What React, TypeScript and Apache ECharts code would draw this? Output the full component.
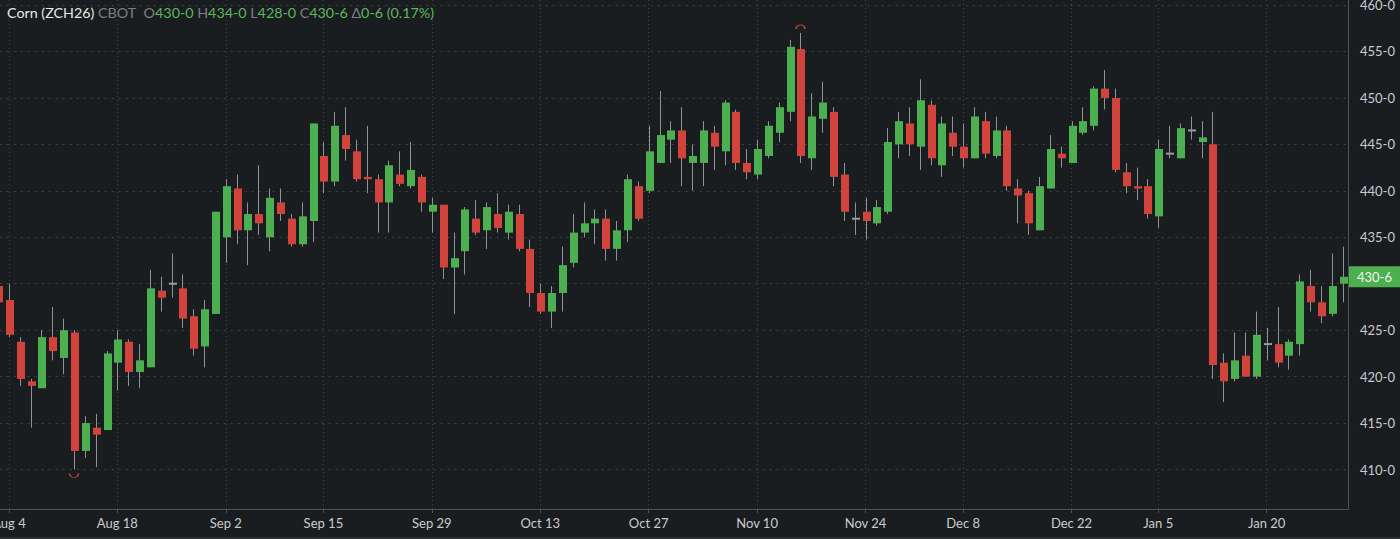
import React, { useEffect, useRef } from "react";
import * as echarts from "echarts";

// ---------- data ----------
const dates = [
  "Aug 1", "Aug 4", "Aug 5", "Aug 6", "Aug 7", "Aug 8", "Aug 11", "Aug 12", "Aug 13", "Aug 14", "Aug 15",
  "Aug 18", "Aug 19", "Aug 20", "Aug 21", "Aug 22", "Aug 25", "Aug 26", "Aug 27", "Aug 28", "Aug 29",
  "Sep 2", "Sep 3", "Sep 4", "Sep 5", "Sep 8", "Sep 9", "Sep 10", "Sep 11", "Sep 12",
  "Sep 15", "Sep 16", "Sep 17", "Sep 18", "Sep 19", "Sep 22", "Sep 23", "Sep 24", "Sep 25", "Sep 26", "Sep 29", "Sep 30",
  "Oct 1", "Oct 2", "Oct 3", "Oct 6", "Oct 7", "Oct 8", "Oct 9", "Oct 10", "Oct 13", "Oct 14", "Oct 15", "Oct 16", "Oct 17",
  "Oct 20", "Oct 21", "Oct 22", "Oct 23", "Oct 24", "Oct 27", "Oct 28", "Oct 29", "Oct 30", "Oct 31",
  "Nov 3", "Nov 4", "Nov 5", "Nov 6", "Nov 7", "Nov 10", "Nov 11", "Nov 12", "Nov 13", "Nov 14",
  "Nov 17", "Nov 18", "Nov 19", "Nov 20", "Nov 21", "Nov 24", "Nov 25", "Nov 26", "Nov 28",
  "Dec 1", "Dec 2", "Dec 3", "Dec 4", "Dec 5", "Dec 8", "Dec 9", "Dec 10", "Dec 11", "Dec 12",
  "Dec 15", "Dec 16", "Dec 17", "Dec 18", "Dec 19", "Dec 22", "Dec 23", "Dec 24", "Dec 26", "Dec 29", "Dec 30", "Dec 31",
  "Jan 2", "Jan 5", "Jan 6", "Jan 7", "Jan 8", "Jan 9", "Jan 12", "Jan 13", "Jan 14", "Jan 15", "Jan 16",
  "Jan 20", "Jan 21", "Jan 22", "Jan 23", "Jan 26", "Jan 27", "Jan 28", "Jan 29",
];

const opens = [
  429.75, 428.25, 423.75, 419.5, 418.75, 424.25, 422.0, 424.75, 412.0, 414.5, 414.25,
  421.5, 423.75, 420.5, 421.0, 429.25, 430.0, 429.5, 426.5, 423.25, 426.75,
  435.0, 440.25, 435.75, 437.5, 435.0, 438.75, 437.0, 434.25, 436.75,
  443.75, 441.0, 446.0, 444.25, 441.5, 441.25, 438.75, 441.75, 440.5, 441.5, 437.75, 438.5,
  431.75, 433.5, 437.0, 435.75, 437.5, 435.5, 437.5, 433.75, 429.0, 427.0, 429.0, 432.25, 435.5,
  436.5, 437.0, 433.75, 435.75, 440.5, 440.0, 443.0, 445.5, 446.5, 443.0,
  443.0, 446.25, 444.25, 448.5, 443.0, 441.75, 443.75, 446.25, 448.5, 455.25,
  443.5, 447.75, 448.5, 441.75, 437.0, 437.75, 436.5, 437.75, 445.0,
  447.25, 444.75, 449.25, 442.75, 446.25, 444.75, 443.5, 447.5, 443.75, 446.5,
  440.25, 439.75, 435.75, 440.25, 444.0, 443.0, 446.25, 447.0, 451.0, 450.0, 442.0, 440.5,
  440.5, 437.25, 444.0, 443.5, 446.5, 445.25, 445.0, 421.5, 419.75, 422.25, 420.0,
  423.5, 423.5, 422.25, 423.5, 429.75, 428.0, 426.75, 430.0,
];

const closes = [
  428.0, 424.5, 419.75, 419.0, 424.25, 422.75, 425.0, 412.0, 415.0, 413.75, 422.5,
  424.0, 420.5, 421.75, 429.5, 428.5, 430.0, 426.25, 423.0, 427.25, 437.75,
  440.5, 435.75, 437.5, 436.5, 439.25, 437.5, 434.25, 437.25, 447.25,
  441.0, 447.0, 444.5, 441.25, 441.25, 438.75, 442.75, 440.75, 442.25, 438.75, 438.5, 431.75,
  432.75, 438.0, 435.5, 438.25, 436.0, 437.75, 433.75, 429.0, 427.0, 429.0, 432.0, 435.5, 436.5,
  437.0, 433.75, 435.75, 441.25, 437.0, 444.25, 446.0, 446.5, 443.5, 443.75,
  446.5, 444.75, 449.5, 443.0, 442.0, 444.5, 447.0, 449.0, 455.5, 443.75,
  448.0, 449.5, 441.5, 437.75, 437.0, 436.75, 438.25, 445.25, 447.5,
  445.0, 449.75, 443.5, 447.25, 444.75, 443.5, 448.0, 444.0, 446.5, 440.5,
  439.5, 436.5, 440.5, 444.5, 443.5, 447.0, 447.5, 451.0, 450.0, 442.25, 440.5, 440.25,
  437.5, 444.5, 444.0, 446.75, 446.5, 445.75, 421.25, 419.5, 421.75, 420.0, 424.5,
  423.5, 421.5, 423.75, 430.25, 428.0, 426.5, 429.75, 430.75,
];

const lows = [
  427.5, 424.25, 419.0, 414.5, 418.75, 421.75, 420.25, 410.0, 411.25, 410.25, 414.25,
  418.5, 419.0, 418.75, 421.0, 427.0, 428.5, 425.25, 422.25, 421.0, 426.75,
  432.25, 434.25, 432.0, 435.25, 433.5, 436.75, 434.0, 434.0, 434.5,
  439.75, 440.5, 443.25, 441.0, 439.75, 435.5, 435.5, 440.5, 440.25, 437.75, 435.5, 430.5,
  426.75, 431.0, 435.25, 433.75, 435.5, 434.75, 433.5, 427.5, 426.75, 425.25, 427.0, 431.75, 435.0,
  434.25, 432.5, 432.5, 434.5, 436.75, 439.75, 443.0, 443.0, 440.5, 440.0,
  440.5, 442.25, 442.75, 442.25, 441.25, 441.25, 443.5, 445.25, 447.5, 443.0,
  442.25, 446.25, 440.5, 436.75, 435.25, 434.75, 436.25, 437.5, 443.5,
  443.75, 442.25, 442.75, 441.5, 443.75, 442.5, 443.5, 443.5, 443.5, 440.0,
  436.5, 435.25, 435.75, 440.25, 442.5, 443.0, 446.0, 446.5, 448.75, 442.0, 439.75, 439.0,
  437.0, 436.0, 443.5, 443.5, 445.5, 443.5, 419.75, 417.25, 419.5, 420.0, 419.75,
  421.75, 421.0, 420.75, 422.25, 427.0, 425.75, 426.5, 428.0,
];

const highs = [
  430.5, 430.0, 424.25, 419.75, 425.0, 427.5, 426.25, 425.0, 415.75, 416.0, 422.75,
  425.0, 424.0, 423.5, 431.5, 430.75, 433.25, 431.0, 427.25, 428.25, 437.75,
  441.25, 441.75, 438.75, 442.75, 440.25, 440.25, 437.5, 438.75, 447.25,
  445.25, 448.5, 449.0, 445.5, 447.0, 441.75, 443.25, 444.25, 445.25, 441.75, 439.25, 438.5,
  435.5, 438.25, 439.0, 438.75, 439.75, 438.5, 438.5, 434.75, 430.0, 429.75, 434.0, 437.5, 438.75,
  438.0, 438.0, 436.75, 441.75, 441.0, 447.0, 450.75, 447.5, 449.0, 445.0,
  447.5, 447.0, 449.75, 448.75, 444.5, 445.5, 447.5, 449.5, 456.25, 457.0,
  450.5, 451.75, 449.0, 443.0, 438.75, 439.25, 439.0, 446.75, 448.5,
  449.0, 452.0, 449.75, 448.0, 448.0, 447.25, 449.0, 448.5, 448.0, 447.0,
  441.25, 440.0, 441.5, 446.0, 444.75, 447.5, 449.0, 451.25, 453.0, 451.0, 443.0, 442.5,
  441.25, 445.5, 447.0, 447.25, 448.0, 447.5, 448.5, 422.5, 424.75, 424.75, 427.0,
  425.25, 427.5, 424.0, 431.0, 431.5, 429.75, 433.25, 434.0,
];

const labelDates = [
  "Aug 4", "Aug 18", "Sep 2", "Sep 15", "Sep 29", "Oct 13", "Oct 27",
  "Nov 10", "Nov 24", "Dec 8", "Dec 22", "Jan 5", "Jan 20",
];

const lowMark = { date: "Aug 12", value: 410.0 };
const highMark = { date: "Nov 14", value: 457.0 };
const lastPrice = 430.75;
const lastPriceLabel = "430-6";
const hiddenTick = 430; // covered by the last-price tag in the reference

const headerName = "Corn (ZCH26)";
const headerExchange = "CBOT";
const headerOpen = "430-0";
const headerHigh = "434-0";
const headerLow = "428-0";
const headerClose = "430-6";
const headerChange = "0-6 (0.17%)";

// ---------- styles ----------
const BG = "#1a1d20";
const GREEN = "#4caf50";
const RED = "#d2433c";
const WICK = "#8f9296";
const DOJI = "#9a9da1";
const GRIDC = "#3f4347";
const AXISC = "#4e5257";
const LABELC = "#c9cbce";
const FONT = "Lato, 'Noto Sans', sans-serif";
const HEADER_SIZE = 14.3;

export default function App() {
  const ref = useRef<HTMLDivElement>(null);

  useEffect(() => {
    if (!ref.current) return;
    const chart = echarts.init(ref.current, null, { renderer: "svg" });

    const candleData = dates.map((d, i) => [i, opens[i], closes[i], lows[i], highs[i]]);
    const isLabel = (_i: number, v: string) => labelDates.includes(v);

    const option: any = {
      animation: false,
      backgroundColor: BG,
      grid: {
        left: -7.3,
        right: 52,
        top: 0,
        bottom: 30,
        containLabel: false,
        outerBoundsMode: "none",
      },
      xAxis: {
        type: "category",
        data: dates,
        boundaryGap: true,
        axisLine: { show: true, lineStyle: { color: AXISC, width: 1 } },
        axisTick: { show: true, alignWithLabel: true, length: 4, interval: isLabel, lineStyle: { color: AXISC } },
        axisLabel: {
          interval: isLabel,
          color: LABELC,
          fontFamily: FONT,
          fontSize: 13,
          margin: 7,
          hideOverlap: false,
        },
        splitLine: { show: false },
      },
      yAxis: {
        type: "value",
        position: "right",
        min: 405.75,
        max: 460.54,
        splitNumber: 11,
        minInterval: 5,
        maxInterval: 5,
        axisLine: { show: true, lineStyle: { color: AXISC, width: 1 } },
        axisTick: { show: false },
        axisLabel: {
          color: LABELC,
          fontFamily: FONT,
          fontSize: 13,
          margin: 12,
          formatter: (v: number) => {
            const r = Math.round(v);
            if (Math.abs(v - r) > 1e-6 || r % 5 !== 0 || r === hiddenTick) return "";
            return `${r}-0`;
          },
        },
        splitLine: {
          show: true,
          showMinLine: false,
          showMaxLine: false,
          lineStyle: { color: GRIDC, type: [2, 5], width: 1 },
        },
      },
      graphic: [
        {
          type: "text",
          left: 7,
          top: 5,
          z: 100,
          style: {
            text:
              `{w|${headerName}} {g|${headerExchange}}  {g|O}{v|${headerOpen}} {g|H}{v|${headerHigh}} ` +
              `{g|L}{v|${headerLow}} {g|C}{v|${headerClose}} {g|Δ}{v|${headerChange}}`,
            font: `${HEADER_SIZE}px ${FONT}`,
            rich: {
              w: { fill: "#e6e7e8", fontFamily: FONT, fontSize: HEADER_SIZE },
              g: { fill: "#7b7f84", fontFamily: FONT, fontSize: HEADER_SIZE },
              v: { fill: "#5cb85c", fontFamily: FONT, fontSize: HEADER_SIZE },
            },
          },
        },
        {
          type: "rect",
          left: 0,
          bottom: 0,
          shape: { width: 1400, height: 2 },
          style: { fill: "#2a2d31" },
        },
      ],
      series: [
        {
          name: "grid",
          type: "line",
          data: [],
          z: 1,
          silent: true,
          markLine: {
            silent: true,
            z: 1,
            symbol: ["none", "none"],
            label: { show: false },
            lineStyle: { color: GRIDC, type: [1, 3], width: 1 },
            data: labelDates.map((d) => ({ xAxis: d })),
          },
        },
        {
          name: "ZCH26",
          type: "custom",
          z: 3,
          encode: { x: 0, y: [1, 2, 3, 4] },
          data: candleData,
          renderItem: (_params: any, api: any) => {
            const i = api.value(0);
            const o = api.value(1);
            const c = api.value(2);
            const l = api.value(3);
            const h = api.value(4);
            const pO = api.coord([i, o]);
            const yC = api.coord([i, c])[1];
            const yL = api.coord([i, l])[1];
            const yH = api.coord([i, h])[1];
            const band = api.size([1, 0])[0];
            const bw = Math.max(3, Math.round(band * 0.72));
            const cx = Math.round(pO[0]) + 0.5;
            const top = Math.min(pO[1], yC);
            const bot = Math.max(pO[1], yC);
            const color = c > o ? GREEN : c < o ? RED : DOJI;
            const hgt = c === o ? 2 : Math.max(1, bot - top);
            return {
              type: "group",
              children: [
                {
                  type: "line",
                  shape: { x1: cx, y1: yH, x2: cx, y2: yL },
                  style: { stroke: WICK, lineWidth: 1 },
                },
                {
                  type: "rect",
                  shape: { x: Math.round(cx - bw / 2), y: c === o ? top - 1 : top, width: bw, height: hgt },
                  style: { fill: color },
                },
              ],
            };
          },
          markPoint: {
            silent: true,
            label: { show: false },
            data: [
              {
                coord: [lowMark.date, lowMark.value],
                symbol: "path://M0 0 A5 5 0 0 0 10 0",
                symbolSize: [9, 4],
                symbolOffset: [0, 6],
                itemStyle: { color: "rgba(0,0,0,0)", borderColor: RED, borderWidth: 1 },
              },
              {
                coord: [highMark.date, highMark.value],
                symbol: "path://M0 5 A5 5 0 0 1 10 5",
                symbolSize: [9, 4],
                symbolOffset: [0, -6],
                itemStyle: { color: "rgba(0,0,0,0)", borderColor: RED, borderWidth: 1 },
              },
            ],
          },
          markLine: {
            silent: true,
            symbol: ["none", "none"],
            lineStyle: { color: "rgba(0,0,0,0)", width: 0 },
            data: [
              {
                yAxis: lastPrice,
                label: {
                  show: true,
                  position: "end",
                  distance: 1,
                  formatter: lastPriceLabel,
                  color: "#f2f2f2",
                  backgroundColor: GREEN,
                  padding: [4, 8, 4, 8],
                  fontFamily: FONT,
                  fontSize: 13,
                },
              },
            ],
          },
        },
      ],
    };

    chart.setOption(option);
    return () => chart.dispose();
  }, []);

  return (
    <div
      ref={ref}
      style={{ position: "fixed", left: 0, top: 0, width: 1400, height: 539 }}
    />
  );
}
